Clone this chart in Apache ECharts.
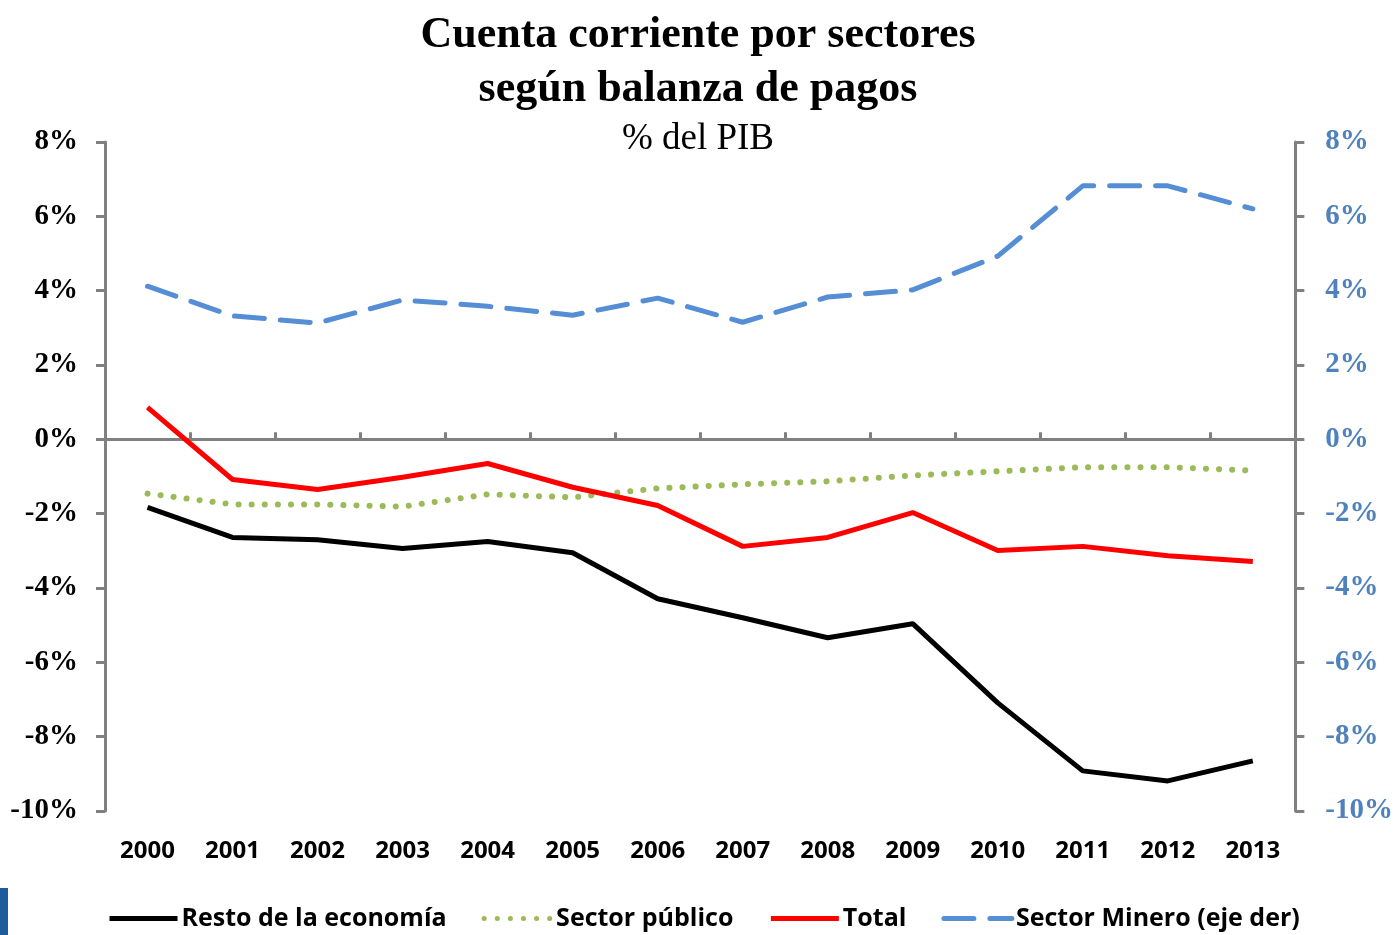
<!DOCTYPE html>
<html>
<head>
<meta charset="utf-8">
<script src="https://cdn.jsdelivr.net/npm/echarts@6/dist/echarts.min.js"></script>
<style>
html, body { margin: 0; padding: 0; background: #fff; }
#chart { width: 1396px; height: 935px; }
</style>
</head>
<body>
<div id="chart"></div>
<script>
// años del eje x
var years = ['2000','2001','2002','2003','2004','2005','2006','2007','2008','2009','2010','2011','2012','2013'];
// % del PIB
var resto   = [-1.83,-2.64,-2.70,-2.94,-2.75,-3.05,-4.29,-4.80,-5.34,-4.96,-7.09,-8.92,-9.19,-8.65];
var publico = [-1.46,-1.75,-1.75,-1.81,-1.48,-1.56,-1.32,-1.21,-1.13,-0.97,-0.86,-0.75,-0.75,-0.84];
var total   = [0.86,-1.08,-1.35,-1.02,-0.65,-1.29,-1.78,-2.88,-2.64,-1.97,-2.99,-2.88,-3.13,-3.29];
var minero  = [4.12,3.32,3.13,3.75,3.58,3.34,3.80,3.15,3.83,4.02,4.93,6.82,6.82,6.20];
var seriesNames = ['Resto de la economía','Sector público','Total','Sector Minero (eje der)'];

var chart = echarts.init(document.getElementById('chart'));
var gray = '#808080';
var serif = '"Liberation Serif", "DejaVu Serif", serif';
var sans = '"Open Sans", "Noto Sans", sans-serif';

var option = {
    backgroundColor: '#fff',
    animation: false,
    title: [
        {
            text: 'Cuenta corriente por sectores\nsegún balanza de pagos',
            left: 'center',
            top: 4,
            textStyle: { fontFamily: serif, fontWeight: 'bold', fontSize: 44, lineHeight: 54, color: '#000' }
        },
        {
            text: '% del PIB',
            left: 'center',
            top: 116,
            textStyle: { fontFamily: serif, fontWeight: 'normal', fontSize: 37, color: '#000' }
        }
    ],
    // franja azul del borde (recorte de la diapositiva)
    graphic: [
        { type: 'rect', left: 0, top: 888, shape: { width: 8, height: 47 }, style: { fill: '#1d5c9c' } }
    ],
    legend: {
        top: 901,
        left: 102,
        itemWidth: 68,
        itemHeight: 14,
        itemGap: 35,
        itemStyle: { opacity: 0 },
        lineStyle: { width: 5 },
        textStyle: { fontFamily: sans, fontWeight: 'bold', fontSize: 25, color: '#000', padding: [0, 0, 0, -1] },
        data: seriesNames
    },
    grid: { left: 105, right: 94, top: 142, bottom: 124 },
    xAxis: [
        {
            type: 'category',
            data: years,
            position: 'bottom',
            axisLine: { onZero: false, show: false },
            axisTick: { show: false },
            axisLabel: { margin: 28, fontFamily: sans, fontWeight: 'bold', fontSize: 24, color: '#000' }
        },
        {
            type: 'category',
            data: years,
            axisLine: { onZero: true, onZeroAxisIndex: 0, lineStyle: { color: gray, width: 3 } },
            axisTick: { show: true, length: 7, lineStyle: { color: gray, width: 3 } },
            axisLabel: { show: false }
        }
    ],
    yAxis: [
        {
            type: 'value',
            min: -10, max: 8, interval: 2,
            position: 'left',
            splitLine: { show: false },
            axisLine: { show: true, lineStyle: { color: gray, width: 3 } },
            axisTick: { show: true, length: 9, lineStyle: { color: gray, width: 3 } },
            axisLabel: { margin: 27, formatter: '{value}%', fontFamily: serif, fontWeight: 'bold', fontSize: 29, color: '#000' }
        },
        {
            type: 'value',
            min: -10, max: 8, interval: 2,
            position: 'right',
            splitLine: { show: false },
            axisLine: { show: true, lineStyle: { color: gray, width: 3 } },
            axisTick: { show: true, length: 9, lineStyle: { color: gray, width: 3 } },
            axisLabel: { margin: 30, formatter: '{value}%', fontFamily: serif, fontWeight: 'bold', fontSize: 29, color: '#4F81BD' }
        }
    ],
    series: [
        {
            name: seriesNames[0], type: 'line', data: resto, symbol: 'none',
            lineStyle: { color: '#000', width: 5 }, itemStyle: { color: '#000' }
        },
        {
            name: seriesNames[1], type: 'line', data: publico, symbol: 'none',
            lineStyle: { color: '#9BBB59', width: 6, type: [0.1, 13], cap: 'round' }, itemStyle: { color: '#9BBB59' }
        },
        {
            name: seriesNames[2], type: 'line', data: total, symbol: 'none',
            lineStyle: { color: '#FF0000', width: 5 }, itemStyle: { color: '#FF0000' }
        },
        {
            name: seriesNames[3], type: 'line', data: minero, yAxisIndex: 1, symbol: 'none',
            lineStyle: { color: '#558ED5', width: 5, type: [30, 16], cap: 'round' }, itemStyle: { color: '#558ED5' }
        }
    ]
};
chart.setOption(option);
</script>
</body>
</html>
